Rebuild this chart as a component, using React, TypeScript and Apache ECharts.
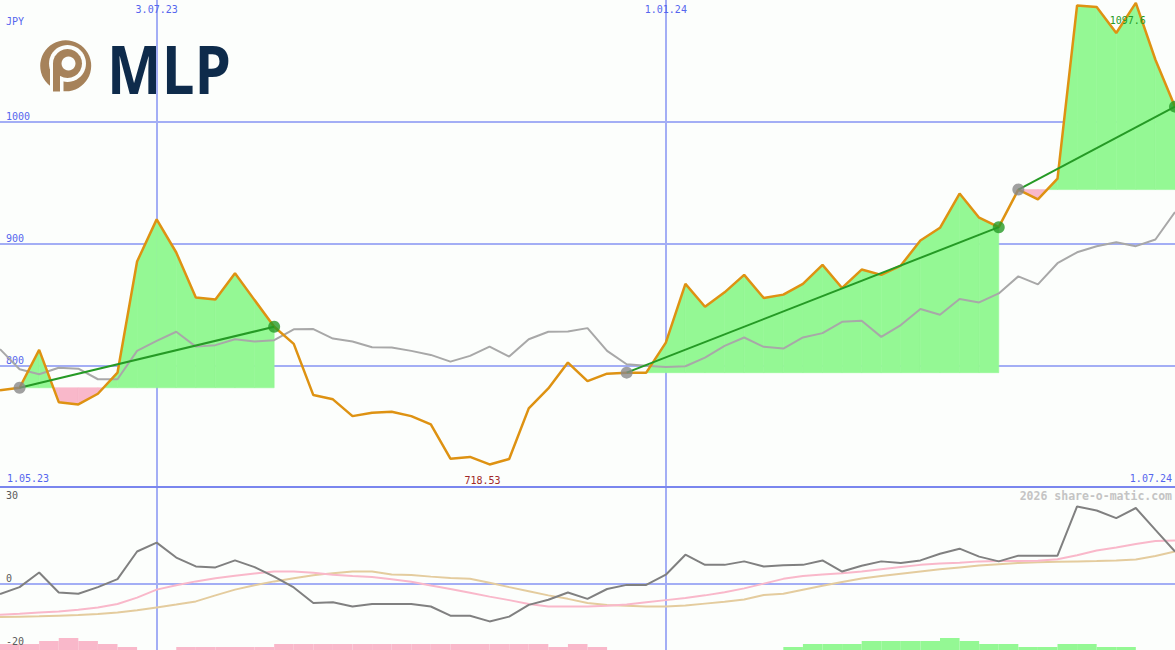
import React, { useEffect, useRef } from 'react';
import * as echarts from 'echarts';

// ---------- data ----------
const dates = ['8.05.23','15.05.23','22.05.23','29.05.23','5.06.23','12.06.23','19.06.23','26.06.23','3.07.23','10.07.23','17.07.23','24.07.23','31.07.23','7.08.23','14.08.23','21.08.23','28.08.23','4.09.23','11.09.23','18.09.23','25.09.23','2.10.23','9.10.23','16.10.23','23.10.23','30.10.23','6.11.23','13.11.23','20.11.23','27.11.23','4.12.23','11.12.23','18.12.23','25.12.23','1.01.24','8.01.24','15.01.24','22.01.24','29.01.24','5.02.24','12.02.24','19.02.24','26.02.24','4.03.24','11.03.24','18.03.24','25.03.24','1.04.24','8.04.24','15.04.24','22.04.24','29.04.24','6.05.24','13.05.24','20.05.24','27.05.24','3.06.24','10.06.24','17.06.24','24.06.24','1.07.24'];

const periodLabels = ['1.05.23', '1.07.24'];
const monthLineIdx = [8, 34];

const price = [779.4,781.5,812.6,769.7,767.8,776.6,793.9,885.2,919.8,892.6,855.7,854.1,875.5,853.5,831.6,817.6,775.5,772.0,758.2,761.0,761.8,758.2,751.4,723.3,724.7,718.53,723.0,764.6,781.0,802.2,787.0,793.1,793.9,793.9,818.6,866.8,848.0,859.9,874.2,855.2,858.0,866.8,882.4,863.5,878.6,874.2,881.9,902.5,912.9,941.0,921.2,913.4,944.3,936.3,953.3,1095.5,1094.3,1072.9,1097.6,1050.9,1012.4];

const avg = [813.2,796.7,792.6,798.0,797.2,788.5,788.5,811.8,820.0,827.5,815.3,816.5,821.4,819.5,820.6,829.5,829.7,821.9,819.5,814.8,814.5,811.8,808.5,803.0,807.7,815.3,807.1,821.4,827.5,827.7,830.5,811.8,800.8,799.6,798.6,799.2,806.3,815.9,822.8,815.1,813.7,822.8,826.4,835.7,836.5,823.3,833.0,846.2,841.5,854.4,851.6,859.0,873.0,866.4,883.8,892.8,897.8,901.1,897.8,903.3,925.8];

const tradeEntry = [1, 32, 52];
const tradeExit = [14, 51, 60];

const osc = [-3.4,-1.2,3.4,-2.9,-3.3,-1.2,1.3,10.0,12.8,8.1,5.3,5.0,7.2,5.1,2.1,-1.3,-6.2,-6.0,-7.3,-6.5,-6.5,-6.5,-7.3,-10.2,-10.2,-12.0,-10.5,-6.8,-5.2,-2.9,-4.9,-1.8,-0.5,-0.5,2.7,9.0,5.8,5.8,6.9,5.3,5.7,5.8,7.2,3.7,5.5,6.9,6.4,7.2,9.3,10.9,8.4,6.9,8.7,8.7,8.7,24.2,22.9,20.5,23.7,16.8,10.0];

const signal = [-9.9,-9.6,-9.2,-8.9,-8.3,-7.6,-6.5,-4.5,-2.0,-0.6,0.6,1.6,2.4,3.1,3.7,3.7,3.3,2.7,2.3,2.0,1.3,0.5,-0.7,-1.8,-3.0,-4.2,-5.3,-6.5,-7.3,-7.3,-7.3,-7.1,-6.7,-6.0,-5.3,-4.6,-3.8,-2.8,-1.6,-0.1,1.4,2.3,2.8,3.2,3.7,4.4,5.1,5.8,6.2,6.5,6.9,7.0,7.0,7.1,7.6,8.8,10.3,11.3,12.4,13.3,13.5];

const slow = [-10.6,-10.5,-10.4,-10.2,-10.0,-9.7,-9.2,-8.5,-7.6,-6.7,-5.7,-3.8,-2.0,-0.6,0.6,1.6,2.5,3.2,3.7,3.7,2.8,2.6,2.1,1.7,1.4,0.2,-1.2,-2.5,-3.8,-4.9,-6.2,-6.8,-7.1,-7.3,-7.3,-7.0,-6.4,-5.8,-5.1,-3.7,-3.3,-2.0,-0.8,0.4,1.5,2.3,3.0,3.7,4.4,5.0,5.6,6.0,6.4,6.6,6.8,6.9,7.0,7.2,7.5,8.6,10.0];

const histLevels = [-2,-2,-3,-4,-3,-2,-1,0,0,-1,-1,-1,-1,-1,-2,-2,-2,-2,-2,-2,-2,-2,-2,-2,-2,-2,-2,-2,-1,-2,-1,0,0,0,0,0,0,0,0,0,1,2,2,2,3,3,3,3,4,3,2,2,1,1,2,2,1,1,0,0];

const mainTicks = [700, 1100, 100];
const lowerTopLabel = [30];
const lowerLabels = [0, -20];
const lowerRange = [-21, 30];

// ---------- styles ----------
const BG = '#fcfefc';
const BLUE = '#5566ee';
const GRIDC = '#a3aef5';
const SEP = '#7a86ee';
const GREEN_FILL = '#94f894';
const PINK = '#f9b8ca';
const ORANGE = '#de9212';
const TREND = '#259a25';
const MONO = '"DejaVu Sans Mono", monospace';
const BROWN = '#a6825a';
const NAVY = '#0e2b4b';

const fillRender = (params: any, api: any) => {
  const k = params.dataIndex;
  const s = tradeEntry[k];
  const e = tradeExit[k];
  const base = price[s];
  const children: any[] = [];
  const poly = (pts: number[][], up: boolean) =>
    children.push({
      type: 'polygon',
      shape: { points: pts },
      style: { fill: up ? GREEN_FILL : PINK, stroke: up ? GREEN_FILL : PINK, lineWidth: 0.6 },
    });
  for (let i = s; i < e; i++) {
    const a = price[i];
    const b = price[i + 1];
    const pa = api.coord([i, a]);
    const pb = api.coord([i + 1, b]);
    const ba = api.coord([i, base]);
    const bb = api.coord([i + 1, base]);
    const da = a - base;
    const db = b - base;
    if (da >= 0 && db >= 0) poly([pa, pb, bb, ba], true);
    else if (da <= 0 && db <= 0) poly([pa, pb, bb, ba], false);
    else {
      const t = da / (da - db);
      const c = [pa[0] + t * (pb[0] - pa[0]), ba[1]];
      poly([pa, c, ba], da > 0);
      poly([c, pb, bb], db > 0);
    }
  }
  return { type: 'group', children };
};

const splitInterval = (index: number) => monthLineIdx.indexOf(index) >= 0;

const option: any = {
  animation: false,
  backgroundColor: BG,
  grid: [
    { left: 0, right: 0, top: 0, height: 487 },
    { left: 0, right: 0, top: 488, height: 162 },
  ],
  xAxis: [
    {
      gridIndex: 0, type: 'category', data: dates, boundaryGap: false, position: 'bottom',
      axisLine: { show: true, onZero: false, lineStyle: { color: SEP, width: 2 } },
      axisTick: { show: false },
      axisLabel: {
        inside: true, margin: 4, color: BLUE, fontFamily: MONO, fontSize: 10,
        interval: (i: number) => i === 0 || i === dates.length - 1,
        formatter: (_v: string, i: number) => (i === 0 ? periodLabels[0] : periodLabels[1]),
        showMinLabel: true, showMaxLabel: true,
        alignMinLabel: 'left', alignMaxLabel: 'right',
        padding: [0, 3, 0, 7],
      },
      splitLine: { show: true, interval: splitInterval, lineStyle: { color: GRIDC, width: 2 } },
    },
    {
      gridIndex: 0, type: 'category', data: dates, boundaryGap: false, position: 'top',
      axisLine: { show: false }, axisTick: { show: false },
      axisLabel: {
        inside: true, margin: 4, color: BLUE, fontFamily: MONO, fontSize: 10,
        interval: splitInterval,
      },
      splitLine: { show: false },
    },
    {
      gridIndex: 1, type: 'category', data: dates, boundaryGap: false,
      axisLine: { show: true, onZero: true, onZeroAxisIndex: 1, lineStyle: { color: GRIDC, width: 2 } },
      axisTick: { show: false }, axisLabel: { show: false },
      splitLine: { show: true, interval: splitInterval, lineStyle: { color: GRIDC, width: 2 } },
    },
    {
      gridIndex: 1, type: 'category', data: dates.slice(0, histLevels.length), boundaryGap: true, show: false,
    },
  ],
  yAxis: [
    {
      gridIndex: 0, type: 'value', min: mainTicks[0], max: mainTicks[1], interval: mainTicks[2], position: 'left',
      axisLine: { show: false }, axisTick: { show: false },
      axisLabel: {
        inside: true, margin: 6, verticalAlign: 'bottom', color: BLUE, fontFamily: MONO, fontSize: 10,
        showMinLabel: false, showMaxLabel: false, formatter: (v: number) => String(v),
      },
      splitLine: { show: true, showMinLine: false, showMaxLine: false, lineStyle: { color: GRIDC, width: 2 } },
      name: 'JPY', nameLocation: 'end', nameGap: -21,
      nameTextStyle: { color: BLUE, fontFamily: MONO, fontSize: 10, align: 'left', verticalAlign: 'middle', padding: [0, 0, 0, 6] },
    },
    {
      gridIndex: 1, type: 'value', min: lowerRange[0], max: lowerRange[1], position: 'left', z: 10,
      axisLine: { show: false }, axisTick: { show: false }, splitLine: { show: false },
      axisLabel: {
        inside: true, margin: 6, verticalAlign: 'top', color: '#5a5a5a', fontFamily: MONO, fontSize: 10,
        customValues: lowerTopLabel, padding: [2, 0, 0, 0], formatter: (v: number) => String(v),
      },
    },
    {
      gridIndex: 1, type: 'value', min: lowerRange[0], max: lowerRange[1], position: 'left', offset: 0, z: 10,
      axisLine: { show: false }, axisTick: { show: false }, splitLine: { show: false },
      axisLabel: {
        inside: true, margin: 6, verticalAlign: 'bottom', color: '#5a5a5a', fontFamily: MONO, fontSize: 10,
        customValues: lowerLabels, formatter: (v: number) => String(v),
      },
    },
    { gridIndex: 1, type: 'value', min: 0, max: 54, show: false },
  ],
  series: [
    {
      type: 'custom', xAxisIndex: 0, yAxisIndex: 0, z: 1, silent: true,
      data: tradeEntry.map((e) => [e, price[e]]),
      encode: { x: 0, y: 1 },
      renderItem: fillRender,
    },
    {
      type: 'line', xAxisIndex: 0, yAxisIndex: 0, data: avg, symbol: 'none', z: 2, silent: true,
      lineStyle: { color: '#a8a8a8', width: 2 },
    },
    {
      type: 'line', xAxisIndex: 0, yAxisIndex: 0, data: price, symbol: 'none', z: 3, silent: true,
      lineStyle: { color: ORANGE, width: 2.5 },
      markPoint: {
        symbol: 'circle', symbolSize: 0, silent: true,
        label: { show: true, position: 'inside', fontFamily: MONO, fontSize: 10, formatter: (p: any) => String(p.value) },
        data: [
          { type: 'max', label: { offset: [-8, 18], color: TREND } },
          { type: 'min', label: { offset: [-7, 16], color: '#a02828' } },
        ],
      },
    },
    ...tradeEntry.map((e, k) => ({
      type: 'line', xAxisIndex: 0, yAxisIndex: 0, symbol: 'none', z: 4, silent: true,
      data: [[e, price[e]], [tradeExit[k], price[tradeExit[k]]]],
      lineStyle: { color: TREND, width: 2 },
    })),
    {
      type: 'scatter', xAxisIndex: 0, yAxisIndex: 0, z: 5, symbolSize: 12, silent: true,
      data: tradeEntry.map((e) => [e, price[e]]),
      itemStyle: { color: '#888888' },
    },
    {
      type: 'scatter', xAxisIndex: 0, yAxisIndex: 0, z: 5, symbolSize: 12, silent: true,
      data: tradeExit.map((e) => [e, price[e]]),
      itemStyle: { color: TREND },
    },
    {
      type: 'bar', xAxisIndex: 3, yAxisIndex: 3, barCategoryGap: '0%', silent: true, z: 1,
      data: histLevels.map((v) => ({ value: Math.abs(v), itemStyle: { color: v < 0 ? PINK : GREEN_FILL } })),
    },
    {
      type: 'line', xAxisIndex: 2, yAxisIndex: 1, data: slow, symbol: 'none', z: 2, silent: true,
      lineStyle: { color: '#e4cc9e', width: 2 },
    },
    {
      type: 'line', xAxisIndex: 2, yAxisIndex: 1, data: signal, symbol: 'none', z: 3, silent: true,
      lineStyle: { color: PINK, width: 2 },
    },
    {
      type: 'line', xAxisIndex: 2, yAxisIndex: 1, data: osc, symbol: 'none', z: 4, silent: true,
      lineStyle: { color: '#808080', width: 2 },
    },
  ],
  graphic: [
    {
      type: 'group', silent: true,
      children: [
        { type: 'circle', shape: { cx: 65.7, cy: 65.8, r: 25.5 }, style: { fill: BROWN } },
        { type: 'circle', shape: { cx: 67.5, cy: 63.5, r: 18.5 }, style: { fill: BG } },
        { type: 'rect', shape: { x: 50, y: 63.5, width: 13.5, height: 30 }, style: { fill: BG } },
        { type: 'circle', shape: { cx: 67.5, cy: 63.5, r: 14.5 }, style: { fill: BROWN } },
        { type: 'rect', shape: { x: 53, y: 63.5, width: 7, height: 28 }, style: { fill: BROWN } },
        { type: 'circle', shape: { cx: 68.5, cy: 63.5, r: 7 }, style: { fill: BG } },
      ],
    },
    {
      type: 'text', x: 107, y: 36, scaleX: 0.88, silent: true,
      style: { text: 'MLP', font: 'bold 66px "Open Sans"', fill: NAVY },
    },
    {
      type: 'text', right: 3, top: 490, silent: true,
      style: { text: '2026 share-o-matic.com', font: 'bold 11.5px "DejaVu Sans Mono"', fill: '#c4c4c4' },
    },
  ],
};

export default function App() {
  const ref = useRef<HTMLDivElement>(null);
  useEffect(() => {
    const chart = echarts.init(ref.current!, null, { renderer: 'svg' });
    chart.setOption(option);
    return () => chart.dispose();
  }, []);
  return (
    <div
      ref={ref}
      style={{ position: 'absolute', left: 0, top: 0, width: 1175, height: 650 }}
    />
  );
}
